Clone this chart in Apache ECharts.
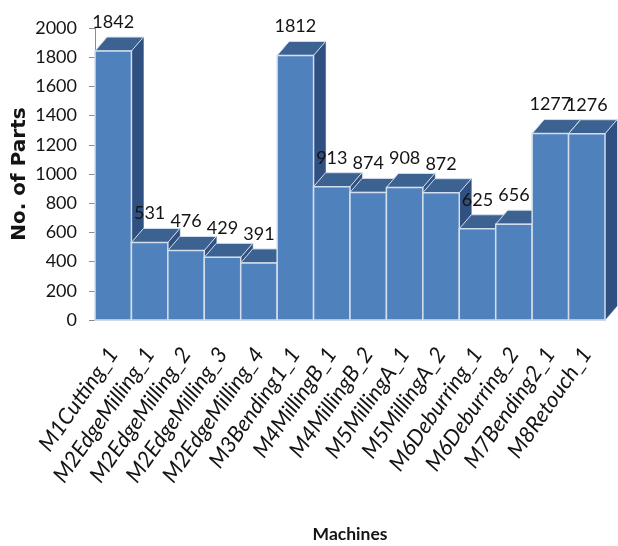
<!DOCTYPE html>
<html>
<head>
<meta charset="utf-8">
<style>html,body{margin:0;padding:0;background:#fff}#chart{width:618px;height:546px}</style>
<script src="https://cdn.jsdelivr.net/npm/echarts@6/dist/echarts.min.js"></script>
</head>
<body>
<div id="chart"></div>
<script>
// Parts processed per machine
const machines = ['M1Cutting_1','M2EdgeMilling_1','M2EdgeMilling_2','M2EdgeMilling_3','M2EdgeMilling_4','M3Bending1_1','M4MillingB_1','M4MillingB_2','M5MillingA_1','M5MillingA_2','M6Deburring_1','M6Deburring_2','M7Bending2_1','M8Retouch_1'];
const parts = [1842,531,476,429,391,1812,913,874,908,872,625,656,1277,1276];

const bodyFont = 'Lato,"Liberation Sans",sans-serif';
const FRONT = '#4f81bd', TOP = '#3b6290', SIDE = '#2f5080', EDGE = '#d3deec';
const INK = '#141414';
const DEPTH_X = 12, DEPTH_Y = -14;

// Extruded column: front face, top face, right side and value label
function drawColumn(params, api) {
  const value = api.value(1);
  const band = api.size([1, 0])[0];
  const top = api.coord([api.value(0), value]);
  const base = api.coord([api.value(0), 0]);
  const l = top[0] - band / 2, r = top[0] + band / 2, t = top[1], b = base[1];
  return {
    type: 'group',
    children: [
      { type: 'polygon', shape: { points: [[r, t], [r + DEPTH_X, t + DEPTH_Y], [r + DEPTH_X, b + DEPTH_Y], [r, b]] },
        style: { fill: SIDE, stroke: SIDE, lineWidth: 0.5 } },
      { type: 'polygon', shape: { points: [[l, t], [l + DEPTH_X, t + DEPTH_Y], [r + DEPTH_X, t + DEPTH_Y], [r, t]] },
        style: { fill: TOP, stroke: EDGE, lineWidth: 1 } },
      { type: 'rect', shape: { x: l, y: t, width: band, height: b - t },
        style: { fill: FRONT, stroke: EDGE, lineWidth: 1.5 } },
      { type: 'text', z2: 100, x: top[0], y: t + DEPTH_Y - 15,
        style: { text: String(value), fill: INK, font: '18px ' + bodyFont, align: 'center', verticalAlign: 'middle' } }
    ]
  };
}

const chart = echarts.init(document.getElementById('chart'), null, { renderer: 'canvas' });
chart.setOption({
  animation: false,
  backgroundColor: '#ffffff',
  grid: { left: 95, right: 13, top: 28, bottom: 226, containLabel: false, outerBoundsMode: 'none' },
  xAxis: {
    type: 'category',
    data: machines,
    name: 'Machines',
    nameLocation: 'middle',
    nameGap: 205,
    nameMoveOverlap: false,
    nameTextStyle: { fontFamily: bodyFont, fontWeight: 'bold', fontSize: 17.5, color: INK },
    axisTick: { show: false },
    axisLine: { lineStyle: { color: '#c4c4c4', width: 2 } },
    axisLabel: { interval: 0, rotate: 55, margin: 30, fontFamily: bodyFont, fontStyle: 'italic', fontSize: 22, color: INK }
  },
  yAxis: {
    type: 'value',
    min: 0,
    max: 2000,
    interval: 200,
    name: 'No. of Parts',
    nameLocation: 'middle',
    nameGap: 65,
    nameMoveOverlap: false,
    nameTextStyle: { fontFamily: '"DejaVu Sans",sans-serif', fontWeight: 'bold', fontSize: 20, color: INK },
    splitLine: { show: false },
    axisLine: { show: true, lineStyle: { color: '#8c8c8c', width: 1 } },
    axisTick: { show: true, length: 6, lineStyle: { color: '#8c8c8c' } },
    axisLabel: { margin: 18, fontFamily: bodyFont, fontSize: 18, color: INK, formatter: v => String(v) }
  },
  series: [{
    type: 'custom',
    clip: false,
    renderItem: drawColumn,
    encode: { x: 0, y: 1 },
    data: parts.map((v, i) => [i, v])
  }]
});
</script>
</body>
</html>
